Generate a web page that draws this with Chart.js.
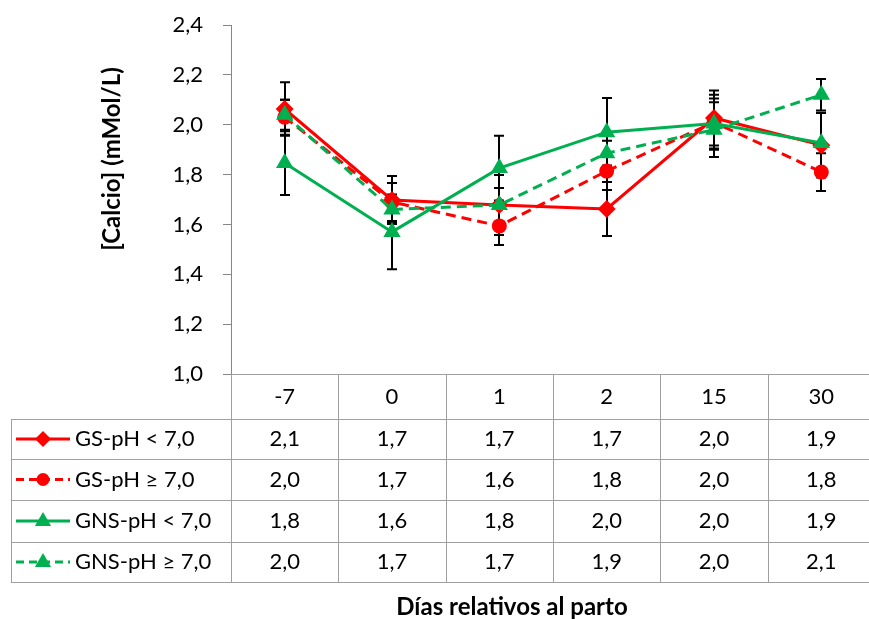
<!DOCTYPE html>
<html>
<head>
<meta charset="utf-8">
<script src="https://cdn.jsdelivr.net/npm/chart.js@4/dist/chart.umd.min.js"></script>
<style>
  html, body { margin: 0; padding: 0; background: #fff; overflow: hidden; }
  #wrap { width: 885px; height: 619px; }
</style>
</head>
<body>
<div id="wrap"><canvas id="chart"></canvas></div>
<script>
// categories (days relative to calving)
const categories = ['-7', '0', '1', '2', '15', '30'];

// series names
const seriesNames = ['GS-pH < 7,0', 'GS-pH ≥ 7,0', 'GNS-pH < 7,0', 'GNS-pH ≥ 7,0'];

// means, mmol/L
const gsLow   = [2.063, 1.698, 1.678, 1.662, 2.027, 1.918];
const gsHigh  = [2.03, 1.69, 1.594, 1.814, 2.01, 1.81];
const gnsLow  = [1.846, 1.57, 1.826, 1.97, 2.005, 1.927];
const gnsHigh = [2.04, 1.66, 1.678, 1.886, 1.98, 2.12];

// error bar half-widths
const gsLowErr   = [0.107, 0.096, 0.068, 0.108, 0.11, 0.13];
const gsHighErr  = [0.07, 0.076, 0.077, 0.076, 0.11, 0.076];
const gnsLowErr  = [0.128, 0.15, 0.13, 0.137, 0.10, 0.12];
const gnsHighErr = [0.06, 0.05, 0.12, 0.05, 0.11, 0.063];

// y axis
const yMin = 1.0, yMax = 2.4, yStep = 0.2;

const RED = '#FF0000', GREEN = '#00B050';
const FONT = 'Lato, "Open Sans", sans-serif';
const PLOT_TOP = 25;

const means = [gsLow, gsHigh, gnsLow, gnsHigh];
const errs = [gsLowErr, gsHighErr, gnsLowErr, gnsHighErr];
const colors = [RED, RED, GREEN, GREEN];
const dashed = [false, true, false, true];
const shapes = ['rectRot', 'circle', 'triangle', 'triangle'];
const radii = [9, 7.5, 10, 10];

function fmt(v) { return v.toFixed(1).replace('.', ','); }

function drawMarker(ctx, shape, x, y, r, color) {
  ctx.save();
  ctx.fillStyle = color;
  ctx.beginPath();
  if (shape === 'rectRot') {
    ctx.moveTo(x, y - r); ctx.lineTo(x + r, y); ctx.lineTo(x, y + r); ctx.lineTo(x - r, y);
  } else if (shape === 'circle') {
    ctx.arc(x, y, r, 0, Math.PI * 2);
  } else {
    ctx.moveTo(x, y - r); ctx.lineTo(x + r * 0.9, y + r * 0.55); ctx.lineTo(x - r * 0.9, y + r * 0.55);
  }
  ctx.closePath();
  ctx.fill();
  ctx.restore();
}

// pin the top of the plot area where the reference has it
const pinTop = {
  id: 'pinTop',
  afterLayout(chart) {
    const a = chart.chartArea, ys = chart.scales.y;
    a.top = PLOT_TOP; a.height = a.bottom - a.top;
    ys.top = PLOT_TOP; ys.height = ys.bottom - ys.top;
    ys.configure();
  }
};

const errorBars = {
  id: 'errorBars',
  beforeDatasetsDraw(chart) {
    const ctx = chart.ctx, xs = chart.scales.x, ys = chart.scales.y;
    ctx.save();
    ctx.strokeStyle = '#000';
    ctx.lineWidth = 2;
    means.forEach((arr, i) => {
      arr.forEach((v, j) => {
        const x = Math.round(xs.getPixelForValue(j));
        const top = ys.getPixelForValue(v + errs[i][j]);
        const bot = ys.getPixelForValue(v - errs[i][j]);
        ctx.beginPath();
        ctx.moveTo(x, top); ctx.lineTo(x, bot);
        ctx.moveTo(x - 5, top); ctx.lineTo(x + 5, top);
        ctx.moveTo(x - 5, bot); ctx.lineTo(x + 5, bot);
        ctx.stroke();
      });
    });
    ctx.restore();
  }
};

const dataTable = {
  id: 'dataTable',
  afterDraw(chart) {
    const ctx = chart.ctx, xs = chart.scales.x, area = chart.chartArea;
    const step = xs.getPixelForValue(1) - xs.getPixelForValue(0);
    const left = xs.getPixelForValue(0) - step / 2;
    const right = left + step * categories.length;
    const rows = [area.bottom, 419, 459, 500, 542, 582];
    const tableLeft = 11;

    ctx.save();
    ctx.strokeStyle = '#A0A0A0';
    ctx.lineWidth = 1;
    ctx.beginPath();
    // header bottom / axis line
    ctx.moveTo(left, Math.round(area.bottom) + 0.5); ctx.lineTo(right, Math.round(area.bottom) + 0.5);
    for (let r = 1; r < rows.length; r++) {
      ctx.moveTo(tableLeft, rows[r] + 0.5); ctx.lineTo(right, rows[r] + 0.5);
    }
    for (let k = 0; k <= categories.length; k++) {
      const x = Math.round(left + k * step) + 0.5;
      ctx.moveTo(x, area.bottom); ctx.lineTo(x, rows[rows.length - 1]);
    }
    ctx.moveTo(tableLeft + 0.5, rows[1]); ctx.lineTo(tableLeft + 0.5, rows[rows.length - 1]);
    ctx.stroke();

    ctx.fillStyle = '#000';
    ctx.font = '22px ' + FONT;
    ctx.textAlign = 'center';
    ctx.textBaseline = 'middle';
    categories.forEach((c, j) => {
      ctx.fillText(c, xs.getPixelForValue(j), (rows[0] + rows[1]) / 2);
    });
    means.forEach((arr, i) => {
      const yc = (rows[i + 1] + rows[i + 2]) / 2;
      arr.forEach((v, j) => {
        ctx.fillText(fmt(v), xs.getPixelForValue(j), yc);
      });
      // legend key
      ctx.save();
      ctx.strokeStyle = colors[i];
      ctx.lineWidth = 3;
      ctx.setLineDash(dashed[i] ? [8, 5] : []);
      ctx.beginPath();
      ctx.moveTo(16, yc); ctx.lineTo(70, yc);
      ctx.stroke();
      ctx.restore();
      drawMarker(ctx, shapes[i], 43, yc, radii[i] - 1, colors[i]);
      ctx.textAlign = 'left';
      ctx.fillText(seriesNames[i], 75, yc);
      ctx.textAlign = 'center';
    });

    // axis titles
    ctx.font = 'bold 24px ' + FONT;
    ctx.fillText('Días relativos al parto', 512, 607);
    ctx.translate(112, 159);
    ctx.rotate(-Math.PI / 2);
    ctx.fillText('[Calcio] (mMol/L)', 0, 0);
    ctx.restore();
  }
};

new Chart(document.getElementById('chart'), {
  type: 'line',
  data: {
    labels: categories,
    datasets: means.map((arr, i) => ({
      label: seriesNames[i],
      data: arr,
      borderColor: colors[i],
      backgroundColor: colors[i],
      borderWidth: 3,
      borderDash: dashed[i] ? [10, 6] : [],
      pointStyle: shapes[i],
      pointRadius: radii[i],
      pointBorderWidth: 0,
      pointBackgroundColor: colors[i],
      tension: 0,
      order: 3 - i
    }))
  },
  options: {
    responsive: true,
    maintainAspectRatio: false,
    animation: false,
    layout: { padding: { top: 12, bottom: 245, left: 0, right: 1 } },
    plugins: { legend: { display: false }, tooltip: { enabled: false } },
    scales: {
      x: { type: 'category', display: false, offset: true },
      y: {
        min: yMin, max: yMax,
        afterFit(scale) { scale.width = 231; },
        ticks: {
          stepSize: yStep,
          padding: 20,
          color: '#000',
          font: { family: FONT, size: 22 },
          callback: v => fmt(v)
        },
        grid: { drawOnChartArea: false, drawTicks: true, tickLength: 8, color: '#868686' },
        border: { display: true, color: '#868686', width: 1 }
      }
    }
  },
  plugins: [pinTop, errorBars, dataTable]
});
</script>
</body>
</html>
